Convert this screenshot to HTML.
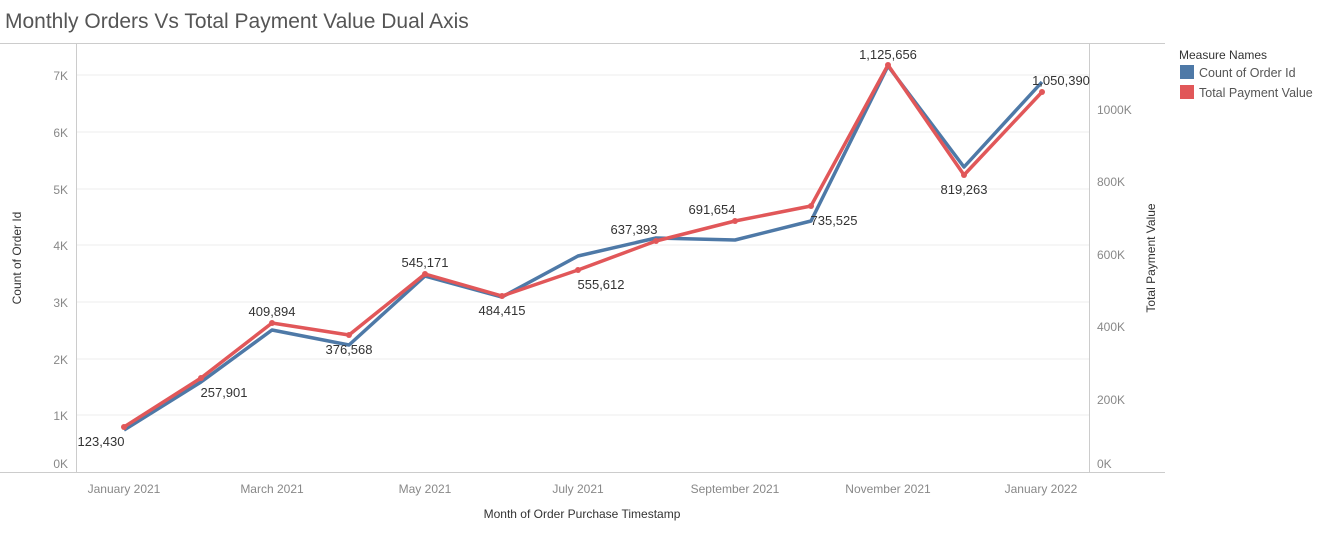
<!DOCTYPE html>
<html><head><meta charset="utf-8"><style>
body{margin:0;background:#fff;font-family:"Liberation Sans",sans-serif;}
</style></head><body>
<svg width="1320" height="530" xmlns="http://www.w3.org/2000/svg" font-family="Liberation Sans, sans-serif">
<text x="5" y="28" font-size="21" fill="#555">Monthly Orders Vs Total Payment Value Dual Axis</text>
<line x1="0" y1="43.5" x2="1165" y2="43.5" stroke="#ccc"/>
<g stroke="#eee">
<line x1="76" y1="415" x2="1089" y2="415"/><line x1="76" y1="359" x2="1089" y2="359"/>
<line x1="76" y1="302" x2="1089" y2="302"/><line x1="76" y1="245" x2="1089" y2="245"/>
<line x1="76" y1="189" x2="1089" y2="189"/><line x1="76" y1="132" x2="1089" y2="132"/>
<line x1="76" y1="75" x2="1089" y2="75"/>
</g>
<line x1="76.5" y1="43" x2="76.5" y2="472" stroke="#ccc"/>
<line x1="1089.5" y1="43" x2="1089.5" y2="472" stroke="#ccc"/>
<line x1="0" y1="472.5" x2="1165" y2="472.5" stroke="#ccc"/>
<g font-size="12" fill="#888" text-anchor="end">
<text x="68" y="468">0K</text><text x="68" y="420">1K</text><text x="68" y="364">2K</text>
<text x="68" y="307">3K</text><text x="68" y="250">4K</text><text x="68" y="194">5K</text>
<text x="68" y="137">6K</text><text x="68" y="80">7K</text>
</g>
<g font-size="12" fill="#888">
<text x="1097" y="468">0K</text><text x="1097" y="404">200K</text><text x="1097" y="331">400K</text>
<text x="1097" y="259">600K</text><text x="1097" y="186">800K</text><text x="1097" y="114">1000K</text>
</g>
<g font-size="12" fill="#888" text-anchor="middle">
<text x="124" y="493">January 2021</text><text x="272" y="493">March 2021</text>
<text x="425" y="493">May 2021</text><text x="578" y="493">July 2021</text>
<text x="735" y="493">September 2021</text><text x="888" y="493">November 2021</text>
<text x="1041" y="493">January 2022</text>
</g>
<text x="582" y="518" font-size="12" fill="#333" text-anchor="middle">Month of Order Purchase Timestamp</text>
<text transform="translate(21,258) rotate(-90)" font-size="12" fill="#333" text-anchor="middle">Count of Order Id</text>
<text transform="translate(1155,258) rotate(-90)" font-size="12" fill="#333" text-anchor="middle">Total Payment Value</text>
<polyline fill="none" stroke="#4e79a7" stroke-width="3.5" stroke-linejoin="round" points="124,430 201,382 272,330 349,345 425,276 502,297 578,256 656,238 735,240 811,221 888,66 964,167 1042,82"/>
<polyline fill="none" stroke="#e15759" stroke-width="3.5" stroke-linejoin="round" points="124,427 201,378 272,323 349,335 425,274 502,296 578,270 656,241 735,221 811,206 888,65 964,175 1042,92"/>
<g fill="#e15759">
<circle cx="124" cy="427" r="3"/><circle cx="201" cy="378" r="3"/><circle cx="272" cy="323" r="3"/>
<circle cx="349" cy="335" r="3"/><circle cx="425" cy="274" r="3"/><circle cx="502" cy="296" r="3"/>
<circle cx="578" cy="270" r="3"/><circle cx="656" cy="241" r="3"/><circle cx="735" cy="221" r="3"/>
<circle cx="811" cy="206" r="3"/><circle cx="888" cy="65" r="3"/><circle cx="964" cy="175" r="3"/>
<circle cx="1042" cy="92" r="3"/>
</g>
<g font-size="13" fill="#333" text-anchor="middle">
<text x="101" y="446">123,430</text><text x="224" y="397">257,901</text>
<text x="272" y="316">409,894</text><text x="349" y="354">376,568</text>
<text x="425" y="267">545,171</text><text x="502" y="315">484,415</text>
<text x="601" y="289">555,612</text><text x="634" y="234">637,393</text>
<text x="712" y="214">691,654</text><text x="834" y="225">735,525</text>
<text x="888" y="59">1,125,656</text><text x="964" y="194">819,263</text>
<text x="1061" y="85">1,050,390</text>
</g>
<text x="1179" y="59" font-size="12" fill="#333">Measure Names</text>
<rect x="1180" y="65" width="14" height="14" fill="#4e79a7"/>
<text x="1199" y="77" font-size="12.5" fill="#555">Count of Order Id</text>
<rect x="1180" y="85" width="14" height="14" fill="#e15759"/>
<text x="1199" y="97" font-size="12.5" fill="#555">Total Payment Value</text>
</svg>
</body></html>
